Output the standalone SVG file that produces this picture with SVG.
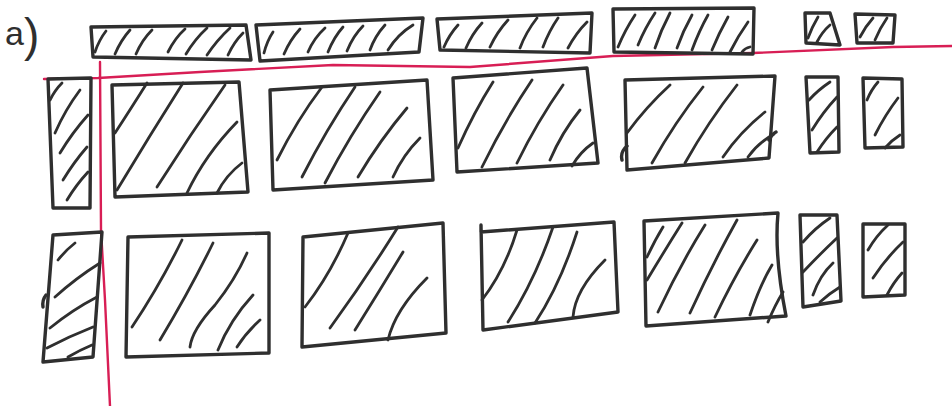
<svg xmlns="http://www.w3.org/2000/svg" width="952" height="406" viewBox="0 0 952 406">
<style>
.b{fill:none;stroke:#2f2f2f;stroke-width:3.4;stroke-linejoin:round;stroke-linecap:round}
.h{fill:none;stroke:#2f2f2f;stroke-width:2.8;stroke-linecap:round}
.r{fill:none;stroke:#d81e55;stroke-width:2.4;stroke-linecap:round;stroke-linejoin:round}
.t{font-family:"Liberation Sans",Arial,sans-serif;fill:#2f2f2f}
</style>
<rect width="952" height="406" fill="#ffffff"/>
<text class="t" x="5" y="45" font-size="34">a<tspan font-size="46" dy="6">)</tspan></text>
<g id="axes">
<path class="r" d="M44,79 L98,78 L200,72 L333,65 L470,67 L613,56 L753,53 L893,47 L952,46"/>
<path class="r" d="M100,62 L101,230 L105,300 L110,406"/>
</g>
<g id="top1"><path class="b" d="M91,27 L246,25 L251,60 L93,57 Z"/>
<path class="h" d="M95,52 Q99,40 106,31 M115,54 Q121,40 130,30 M136,54 Q142,40 152,30 M168,52 Q175,38 185,29 M186,54 Q195,39 207,28 M207,55 Q217,40 230,28 M228,55 Q234,42 243,33"/></g>
<g id="top2"><path class="b" d="M256,25 L423,18 L419,52 L260,61 Z"/>
<path class="h" d="M264,53 Q267,41 273,32 M284,54 Q290,40 300,29 M308,52 Q314,38 325,28 M328,52 Q334,37 343,27 M347,51 Q353,36 363,26 M370,50 Q375,36 385,25 M388,50 Q398,34 413,25"/></g>
<g id="top3"><path class="b" d="M437,19 L592,13 L590,53 L440,50 Z"/>
<path class="h" d="M444,47 Q449,35 458,25 M466,48 Q472,34 482,23 M490,47 Q497,32 508,20 M520,48 Q526,32 537,18 M543,47 Q549,31 558,18 M568,48 Q576,33 587,22"/></g>
<g id="top4"><path class="b" d="M613,9 L754,8 L753,54 L614,52 Z"/>
<path class="h" d="M618,47 Q625,30 635,15 M638,45 Q645,28 655,13 M655,48 Q661,30 670,13 M677,48 Q683,31 692,15 M692,50 Q699,31 708,15 M712,50 Q719,33 728,17 M730,52 Q738,36 748,22 M742,52 Q745,48 750,47"/></g>
<g id="top5"><path class="b" d="M805,13 L830,13 L840,45 L806,43 Z"/>
<path class="h" d="M808,38 Q812,27 818,17 M817,42 Q822,32 830,25"/></g>
<g id="top6"><path class="b" d="M855,14 L895,15 L893,43 L857,43 Z"/>
<path class="h" d="M860,37 Q865,27 873,18 M875,40 Q880,28 887,18"/></g>

<g id="r1left"><path class="b" d="M48,79 L91,78 L90,208 L53,208 Z"/>
<path class="h" d="M50,100 Q55,90 62,83 M55,133 Q65,110 80,90 M60,153 Q72,133 88,115 M63,180 Q74,162 87,147 M67,200 Q76,185 88,172"/></g>
<g id="r1a"><path class="b" d="M112,85 L239,82 L248,192 L115,197 Z"/>
<path class="h" d="M115,133 Q130,110 147,83 M117,190 Q150,135 183,83 M157,187 Q190,135 225,85 M187,193 Q205,155 237,122 M217,193 Q226,175 242,163"/></g>
<g id="r1b"><path class="b" d="M270,90 L427,80 L433,180 L273,190 Z"/>
<path class="h" d="M277,160 Q297,120 322,87 M302,177 Q326,130 355,87 M325,183 Q350,135 380,92 M358,177 Q380,140 407,108 M393,177 Q403,155 420,138"/></g>
<g id="r1c"><path class="b" d="M453,78 L587,68 L598,163 L457,172 Z"/>
<path class="h" d="M458,148 Q474,112 493,82 M482,167 Q505,120 532,80 M517,163 Q537,122 563,85 M550,160 Q562,132 580,110 M572,166 Q580,152 593,143"/></g>
<g id="r1d"><path class="b" d="M625,80 L775,76 L769,158 L627,170 Z"/>
<path class="b" d="M627,146 Q620,152 622,160 M769,140 Q772,134 776,132"/>
<path class="h" d="M627,133 Q646,107 670,85 M652,163 Q675,122 703,87 M685,163 Q708,122 737,85 M723,157 Q740,132 765,112 M748,157 Q758,143 774,134"/></g>
<g id="r1e"><path class="b" d="M806,77 L838,77 L839,152 L810,153 Z"/>
<path class="h" d="M809,100 Q818,90 830,82 M812,130 Q823,112 837,97 M817,152 Q826,138 837,127"/></g>
<g id="r1f"><path class="b" d="M863,78 L902,79 L903,147 L865,148 Z"/>
<path class="h" d="M867,100 Q871,90 878,82 M875,135 Q885,115 898,98 M885,148 Q892,140 900,135"/></g>

<g id="r2left"><path class="b" d="M53,235 L102,232 L93,357 L43,362 Z"/>
<path class="b" d="M46,295 Q42,300 43,307"/>
<path class="h" d="M58,260 Q66,250 75,243 M55,297 Q76,278 100,263 M50,328 Q72,310 97,297 M47,348 Q70,336 93,327 M68,357 Q80,350 92,345"/></g>
<g id="r2a"><path class="b" d="M128,237 L269,233 L269,353 L126,357 Z"/>
<path class="h" d="M132,327 Q160,285 182,240 M160,340 Q190,290 213,243 M190,347 Q192,330 215,305 Q235,280 247,253 M218,350 Q230,320 253,295 M237,347 Q246,333 260,320"/></g>
<g id="r2b"><path class="b" d="M303,237 L443,223 L446,333 L302,347 Z"/>
<path class="h" d="M305,307 Q330,275 348,233 M330,328 Q365,280 398,227 M355,330 Q380,290 403,252 M388,340 Q395,310 427,278"/></g>
<g id="r2c"><path class="b" d="M481,225 L481,232 L614,222 L618,312 L483,330 Z"/>
<path class="h" d="M482,300 Q505,270 517,230 M508,322 Q535,280 553,227 M535,323 Q560,285 577,232 M573,317 Q575,290 605,260"/></g>
<g id="r2d"><path class="b" d="M644,221 L778,213 Q774,255 786,316 L646,326 Z"/>
<path class="h" d="M647,257 Q655,240 663,227 M647,280 Q665,250 682,223 M658,312 Q680,265 705,225 M690,313 Q712,265 737,220 M715,317 Q735,275 757,240 M750,315 Q760,285 772,265 M768,322 Q775,305 783,292"/></g>
<g id="r2e"><path class="b" d="M800,215 L837,215 L841,301 L803,307 Z"/>
<path class="h" d="M803,242 Q815,228 830,218 M803,272 Q820,254 837,238 M813,295 Q820,275 833,263 M820,302 Q830,293 840,287"/></g>
<g id="r2f"><path class="b" d="M863,224 L905,224 L905,295 L863,297 Z"/>
<path class="h" d="M868,250 Q876,236 888,225 M873,278 Q886,258 903,242 M887,295 Q893,283 902,273"/></g>
</svg>
